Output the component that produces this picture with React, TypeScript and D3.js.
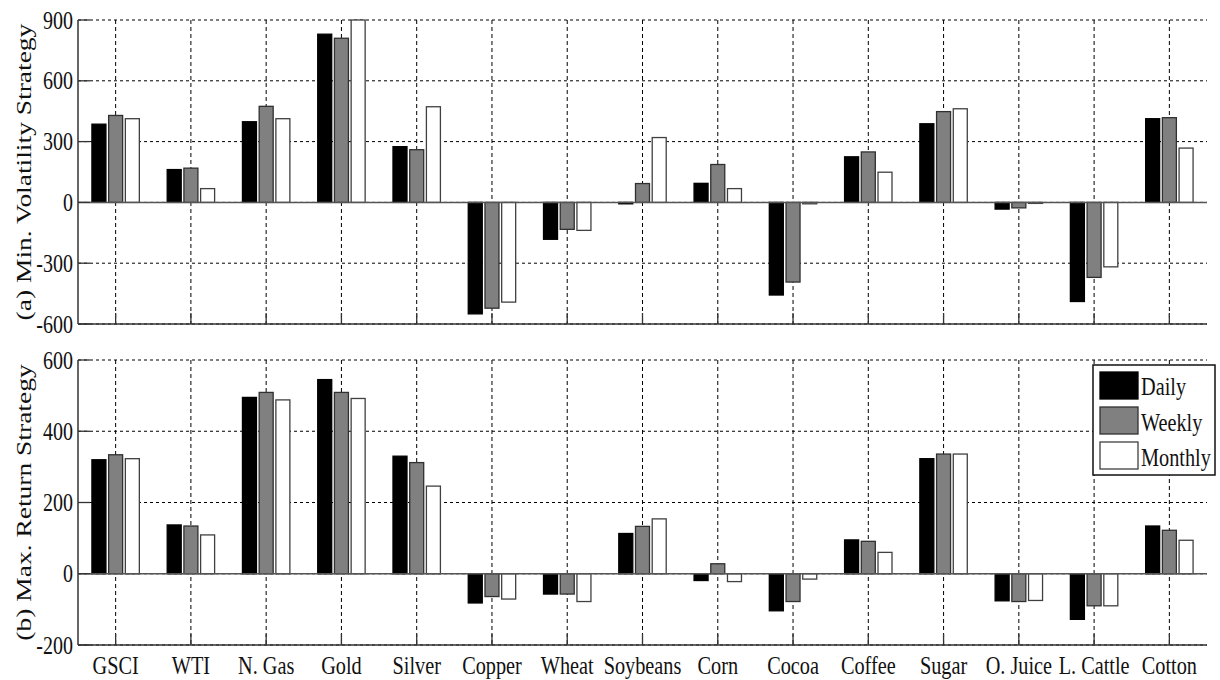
import React from "react";
import * as d3 from "d3";

const categories = ["GSCI", "WTI", "N. Gas", "Gold", "Silver", "Copper", "Wheat", "Soybeans", "Corn", "Cocoa", "Coffee", "Sugar", "O. Juice", "L. Cattle", "Cotton"];
const seriesNames = ["Daily", "Weekly", "Monthly"];
const seriesFill = ["#000000", "#808080", "#ffffff"];
const seriesStroke = ["#000000", "#303030", "#404040"];

// (a) Min. Volatility Strategy
const minVolDaily = [386, 162, 398, 830, 275, -550, -182, -7, 94, -457, 225, 388, -33, -489, 413];
const minVolWeekly = [429, 169, 474, 810, 260, -522, -133, 93, 187, -393, 249, 448, -27, -370, 418];
const minVolMonthly = [413, 68, 413, 900, 472, -492, -138, 320, 68, -7, 149, 462, -2, -318, 268];

// (b) Max. Return Strategy
const maxRetDaily = [320, 137, 495, 545, 330, -82, -57, 113, -19, -104, 95, 323, -76, -128, 134];
const maxRetWeekly = [334, 134, 509, 509, 312, -64, -57, 133, 28, -78, 91, 336, -78, -90, 122];
const maxRetMonthly = [323, 109, 488, 492, 246, -71, -78, 154, -22, -15, 60, 336, -75, -90, 94];

const topTicks = [-600, -300, 0, 300, 600, 900];
const bottomTicks = [-200, 0, 200, 400, 600];

const FONT = '"Liberation Serif", "Times New Roman", serif';
const LEFT = 78;
const RIGHT = 1207;
const textStyle = { fontFamily: FONT } as React.CSSProperties;

type PanelProps = {
  series: number[][];
  domain: [number, number];
  range: [number, number];
  ticks: number[];
  label: string;
  showCats: boolean;
};

function Panel({ series, domain, range, ticks, label, showCats }: PanelProps) {
  const x = d3.scaleLinear().domain([0.5, categories.length + 0.5]).range([LEFT, RIGHT]);
  const y = d3.scaleLinear().domain(domain).range(range);
  const bw = 0.186;
  const off = 0.222;
  const yTop = range[1];
  const yBot = range[0];
  const tickLen = 11;
  return (
    <g>
      {ticks.map((t) => (
        <line key={"hg" + t} x1={LEFT} x2={RIGHT} y1={y(t)} y2={y(t)} stroke="#000" strokeWidth={1} strokeDasharray="3,3" />
      ))}
      {categories.map((c, i) => (
        <line key={"vg" + c} x1={x(i + 1)} x2={x(i + 1)} y1={yTop} y2={yBot} stroke="#000" strokeWidth={1} strokeDasharray="4,3" />
      ))}
      {series.map((vals, s) =>
        vals.map((v, i) => {
          const cx = x(i + 1 + (s - 1) * off);
          const w = x(bw) - x(0);
          const x0 = cx - w / 2;
          const y0 = Math.min(y(v), y(0));
          const h = Math.abs(y(v) - y(0));
          return (
            <rect key={"b" + s + "-" + i} x={x0} y={y0} width={w} height={Math.max(h, 1)} fill={seriesFill[s]} stroke={seriesStroke[s]} strokeWidth={1.3} />
          );
        })
      )}
      <line x1={LEFT} x2={RIGHT} y1={y(0)} y2={y(0)} stroke="#555" strokeWidth={1.5} />
      <line x1={LEFT} x2={LEFT} y1={yTop} y2={yBot} stroke="#333" strokeWidth={1.5} />
      <line x1={LEFT} x2={RIGHT} y1={yBot} y2={yBot} stroke="#333" strokeWidth={1.5} />
      {ticks.map((t) => (
        <line key={"yt" + t} x1={LEFT} x2={LEFT + 12} y1={y(t)} y2={y(t)} stroke="#333" strokeWidth={1.3} />
      ))}
      {categories.map((c, i) => (
        <line key={"xt" + c} x1={x(i + 1)} x2={x(i + 1)} y1={yBot} y2={yBot - tickLen} stroke="#333" strokeWidth={1.3} />
      ))}
      {ticks.map((t) => (
        <text key={"tl" + t} transform={`translate(73,${y(t) + 8.5}) scale(0.8,1)`} textAnchor="end" style={textStyle} fontSize={25} fill="#111">
          {String(t)}
        </text>
      ))}
      {showCats &&
        categories.map((c, i) => (
          <text key={"cl" + c} transform={`translate(${x(i + 1)},674) scale(0.78,1)`} textAnchor="middle" style={textStyle} fontSize={26} fill="#111">
            {c}
          </text>
        ))}
      <text transform={`translate(31,${(yTop + yBot) / 2}) rotate(-90) scale(1.25,1)`} textAnchor="middle" style={textStyle} fontSize={22} fill="#111">
        {label}
      </text>
    </g>
  );
}

export default function App() {
  const legendY = [372, 407, 442];
  const legendTextY = [395, 431, 466];
  return (
    <svg width={1220} height={680} style={{ position: "absolute", left: 0, top: 0, background: "#fff" }}>
      <rect x={0} y={0} width={1220} height={680} fill="#fff" />
      <Panel
        series={[minVolDaily, minVolWeekly, minVolMonthly]}
        domain={[-600, 900]}
        range={[324, 20]}
        ticks={topTicks}
        label="(a) Min. Volatility Strategy"
        showCats={false}
      />
      <Panel
        series={[maxRetDaily, maxRetWeekly, maxRetMonthly]}
        domain={[-200, 600]}
        range={[645, 360]}
        ticks={bottomTicks}
        label="(b) Max. Return Strategy"
        showCats={true}
      />
      <rect x={1093} y={365} width={122} height={110} fill="#fff" stroke="#111" strokeWidth={1.5} />
      {seriesNames.map((n, s) => (
        <g key={n}>
          <rect x={1100} y={legendY[s]} width={38} height={27} fill={seriesFill[s]} stroke={seriesStroke[s]} strokeWidth={1.3} />
          <text transform={`translate(1141,${legendTextY[s]}) scale(0.78,1)`} style={textStyle} fontSize={26} fill="#111">
            {n}
          </text>
        </g>
      ))}
    </svg>
  );
}
